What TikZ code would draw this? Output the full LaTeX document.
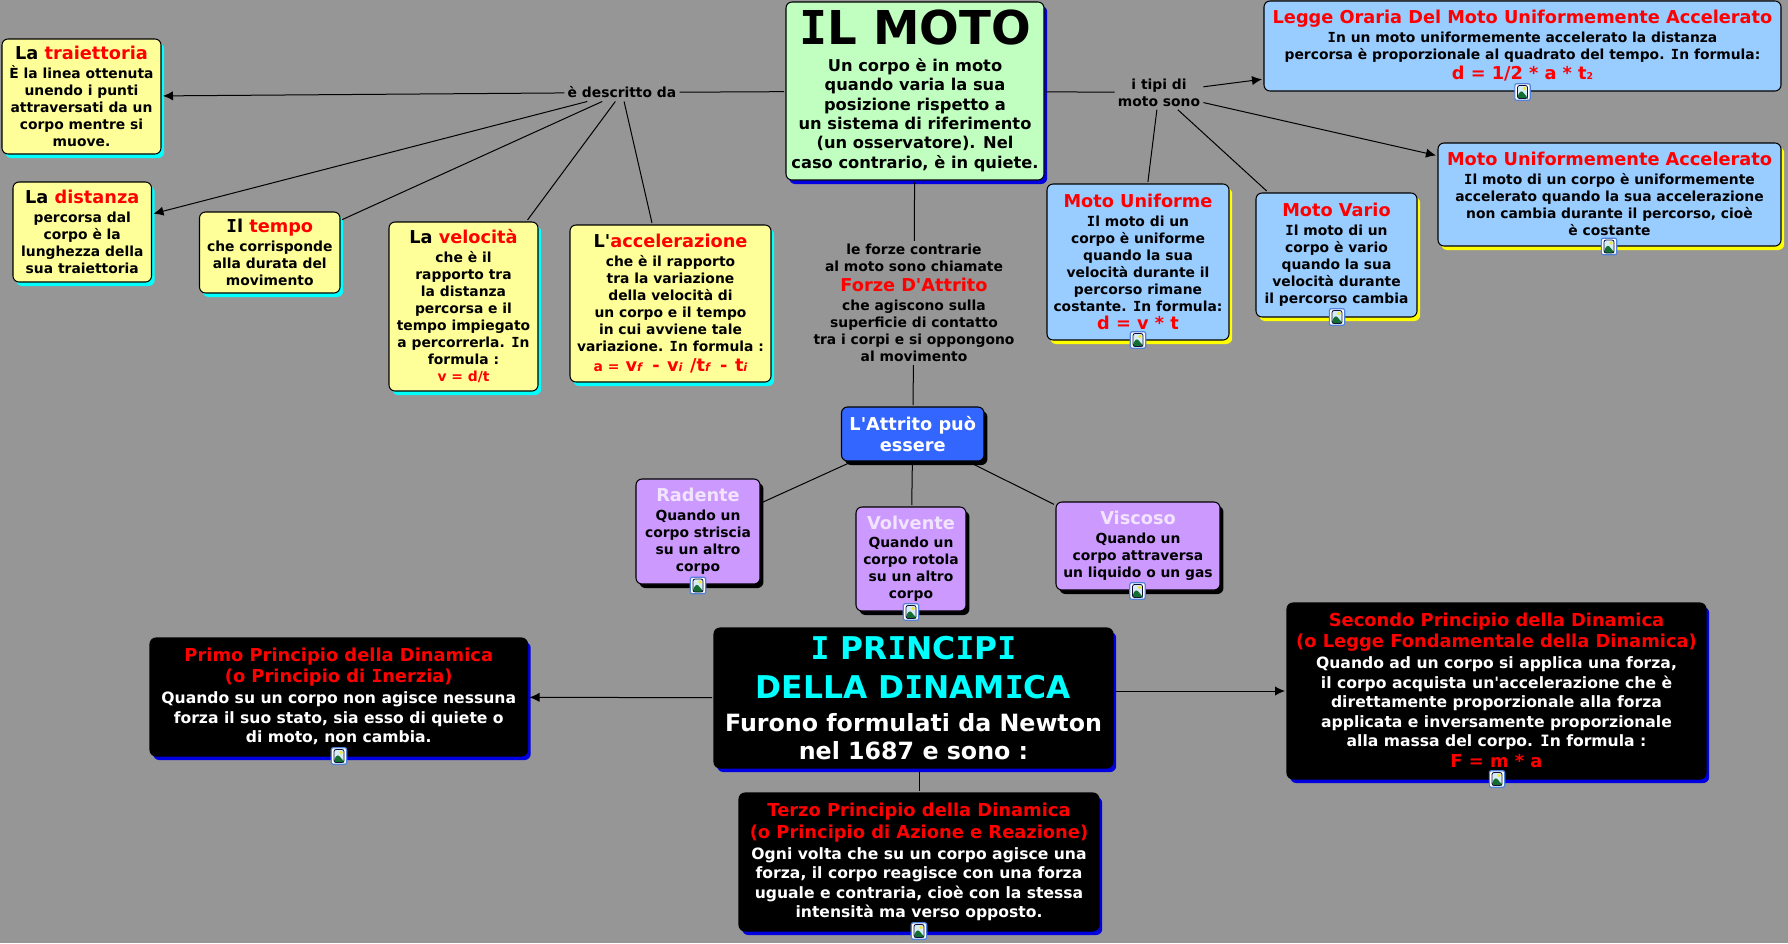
\documentclass[tikz,border=0pt]{standalone}
\usepackage{fontspec}
\usetikzlibrary{arrows.meta,shadows}
\newfontfamily\dv{DejaVu Sans}
\newfontfamily\dvm{DejaVu Sans Mono}
\definecolor{bgc}{HTML}{969696}
\definecolor{yel}{HTML}{FFFF99}
\definecolor{grn}{HTML}{C0FFC0}
\definecolor{sky}{HTML}{99CCFF}
\definecolor{vio}{HTML}{CC99FF}
\definecolor{roy}{HTML}{3366FF}
\definecolor{lav}{HTML}{F2E4FF}
\definecolor{deepb}{HTML}{0000E0}
\definecolor{cyn}{HTML}{00FFFF}
\definecolor{yl}{HTML}{FFFF00}
\definecolor{rd}{HTML}{FF0000}
\definecolor{icb}{HTML}{5082DC}
\definecolor{ics}{HTML}{D6ECF8}
\definecolor{icg}{HTML}{146E32}
\definecolor{icy}{HTML}{F5E632}
\definecolor{icf}{HTML}{10103A}
\newcommand\by{\dv\bfseries\fontsize{10.4}{12.75}\selectfont}
\newcommand\hd{\dv\bfseries\fontsize{13.3}{12.75}\selectfont}
\newcommand\hk{\dv\bfseries\fontsize{13.4}{14.6}\selectfont}
\newcommand\bk{\dv\bfseries\fontsize{11.7}{14.6}\selectfont}
\newcommand\mb{\dv\bfseries\fontsize{12.2}{14.5}\selectfont}
\newcommand\pb{\dv\bfseries\fontsize{17.8}{21}\selectfont}
\newcommand\pt{\dv\bfseries\fontsize{23.5}{21}\selectfont}
\newcommand\ssm{\fontsize{8.5}{8}\selectfont\itshape}
\newcommand\mi{{\dvm\bfseries I}}
\newcommand\rd[1]{\textcolor{rd}{#1}}
\newcommand\up[1]{\rule[-#1]{0pt}{#1}}
\tikzset{
  pxbox/.style n args={4}{at={({(#1+#3)/2},{(#2+#4)/2})},
    minimum width={(#3-#1)*0.75pt},minimum height={(#4-#2)*0.75pt}},
  card/.style={draw=black,line width=0.8pt,rounded corners=4.5pt,inner sep=0pt,outer sep=1.5pt,align=center},
  ybox/.style={card,fill=yel,text=black,font=\by,general shadow={fill=cyn,shadow xshift=2.4pt,shadow yshift=-3pt}},
  gbox/.style={card,fill=grn,text=black,font=\mb,general shadow={fill=deepb,shadow xshift=2.4pt,shadow yshift=-3pt}},
  sbox/.style={card,fill=sky,text=black,font=\by,general shadow={fill=yl,shadow xshift=2.4pt,shadow yshift=-3pt}},
  lbox/.style={card,fill=sky,text=black,font=\by},
  vbox/.style={card,fill=vio,text=black,font=\by,general shadow={fill=black,shadow xshift=2.6pt,shadow yshift=-3pt}},
  rbox/.style={card,fill=roy,text=white,font=\hd,general shadow={fill=black,shadow xshift=2.6pt,shadow yshift=-3pt}},
  kbox/.style={card,fill=black,text=white,font=\bk,general shadow={fill=deepb,shadow xshift=2.4pt,shadow yshift=-3pt}},
  lab/.style={inner sep=1pt,outer sep=1.5pt,align=center,text=black,font=\by},
  con/.style={draw=black,line width=0.75pt},
  arr/.style={con,-{Latex[length=7.5pt,width=7pt]}},
  icn/.style={draw=icb,line width=0.9pt,fill=white,rounded corners=1.5pt,
    minimum width=11.5pt,minimum height=12.5pt,inner sep=0pt,
    path picture={
      \begin{scope}[shift={(path picture bounding box.center)}]
        \fill[ics] (-5,-6.5) rectangle (5,6.5);
        \fill[icg] (-5,6.5) -- (-5,3) -- (-1,-1.5) -- (2,2) -- (5,5.5) -- (5,6.5) -- cycle;
        \fill[icy] (2,-3.5) circle (1.9);
        \draw[icf,line width=0.6pt] (-5,-6.5) rectangle (5,6.5);
      \end{scope}}},
}
\begin{document}
\begin{tikzpicture}[x=0.75pt,y=-0.75pt]
\useasboundingbox (0,0) rectangle (1788,943);
\fill[bgc] (0,0) rectangle (1788,943);

% top centre
\node[gbox,pxbox={786}{2}{1044}{180}] (moto) {%
  {\dv\bfseries\fontsize{35}{38}\selectfont \mi L MOTO}\\[5.5pt]
  Un corpo è in moto\\quando varia la sua\\posizione rispetto a\\un sistema di riferimento\\(un osservatore). Nel\\caso contrario, è in quiete.};

% left column
\node[ybox,pxbox={2}{39}{161}{154}] (traj) {{\hd La \rd{traiettoria}}\\[1.5pt]
  È la linea ottenuta\\unendo i punti\\attraversati da un\\corpo mentre si\\muove.};
\node[ybox,pxbox={13}{182}{151.5}{282}] (dist) {{\hd La \rd{distanza}}\\[1.5pt]
  percorsa dal\\corpo è la\\lunghezza della\\sua traiettoria};
\node[ybox,pxbox={199.5}{212}{340}{293}] (temp) {{\hd \mi l \rd{tempo}}\\[1.5pt]
  che corrisponde\\alla durata del\\movimento};
\node[ybox,pxbox={389}{222}{538}{391}] (velo) {{\hd La \rd{velocità}}\\[1.5pt]
  che è il\\rapporto tra\\la distanza\\percorsa e il\\tempo impiegato\\a percorrerla. \mi n\\formula :\\\rd{v = d/t}};
\node[ybox,pxbox={570}{225}{771}{382}] (acce) {{\hd L'\rd{accelerazione}}\\[1.5pt]
  che è il rapporto\\tra la variazione\\della velocità di\\un corpo e il tempo\\in cui avviene tale\\variazione. \mi n formula :\\[2pt]
  \textcolor{rd}{a = {\hd\hspace{1pt}v{\ssm f}\hspace{3pt} - \hspace{1pt}v{\ssm i}\hspace{1pt} /t{\ssm f}\hspace{3pt} - \hspace{1pt}t{\ssm i}}}};

% right column
\node[lbox,pxbox={1264}{1}{1781}{91}] (legg) {{\hd\rd{Legge Oraria Del Moto Uniformemente Accelerato}}\\[1.5pt]
  \mi n un moto uniformemente accelerato la distanza\\percorsa è proporzionale al quadrato del tempo. \mi n formula:\\[2pt]
  {\hd\rd{d = 1/2 * a * t{\fontsize{7}{7}\selectfont 2}}}\up{1.5pt}};
\node[sbox,pxbox={1438}{143}{1781}{246}] (unac) {{\hd\rd{Moto Uniformemente Accelerato}}\\[1.5pt]
  \mi l moto di un corpo è uniformemente\\accelerato quando la sua accelerazione\\non cambia durante il percorso, cioè\\è costante\up{1pt}};
\node[sbox,pxbox={1047}{184}{1229}{340}] (unif) {{\hd\rd{Moto Uniforme}}\\[1.5pt]
  \mi l moto di un\\corpo è uniforme\\quando la sua\\velocità durante il\\percorso rimane\\costante. \mi n formula:\\[1pt]
  {\hd\rd{d = v * t}}};
\node[sbox,pxbox={1256}{193}{1417}{317}] (vari) {{\hd\rd{Moto Vario}}\\[1.5pt]
  \mi l moto di un\\corpo è vario\\quando la sua\\velocità durante\\il percorso cambia\up{2.5pt}};

% labels
\node[lab] (ldes) at (622,92.5) {è descritto da};
\node[lab] (ltip) at (1159,92.5) {i tipi di\\moto sono};
\node[lab] (lfor) at (914,303) {le forze contrarie\\al moto sono chiamate\\[2pt]{\hd\rd{Forze D'Attrito}}\\[1.5pt]che agiscono sulla\\superficie di contatto\\tra i corpi e si oppongono\\al movimento};

% attrito
\node[rbox,pxbox={841.5}{407}{984}{461}] (attr) {L'Attrito può\\[3.5pt]essere};
\node[vbox,pxbox={636}{479}{760}{584}] (rade) {{\hd\textcolor{lav}{Radente}}\\[1pt]Quando un\\corpo striscia\\su un altro\\corpo\up{2.5pt}};
\node[vbox,pxbox={856}{507}{966}{611}] (volv) {{\hd\textcolor{lav}{Volvente}}\\[1pt]Quando un\\corpo rotola\\su un altro\\corpo\up{2.5pt}};
\node[vbox,pxbox={1056}{502}{1220}{590}] (visc) {{\hd\textcolor{lav}{Viscoso}}\\[1pt]Quando un\\corpo attraversa\\un liquido o un gas\up{2.5pt}};

% dinamica
\node[kbox,font=\pb,pxbox={714}{628}{1113}{768}] (prin) {%
  {\pt\textcolor{cyn}{\mi{} PR\mi NC\mi P\mi}}\\[8.25pt]
  {\pt\textcolor{cyn}{DELLA D\mi NAM\mi CA}}\\[3.75pt]
  Furono formulati da Newton\\
  nel 1687 e sono :};
\node[kbox,pxbox={150}{638}{527.5}{756}] (prim) {{\hk\rd{Primo Principio della Dinamica}}\\[1.5pt]
  {\hk\rd{(o Principio di \mi nerzia)}}\\[1pt]
  Quando su un corpo non agisce nessuna\\forza il suo stato, sia esso di quiete o\\di moto, non cambia.\up{2.5pt}};
\node[kbox,pxbox={1287}{603}{1706}{779}] (seco) {{\hk\rd{Secondo Principio della Dinamica}}\\[1.5pt]
  {\hk\rd{(o Legge Fondamentale della Dinamica)}}\\[1pt]
  Quando ad un corpo si applica una forza,\\il corpo acquista un'accelerazione che è\\direttamente proporzionale alla forza\\applicata e inversamente proporzionale\\alla massa del corpo. \mi n formula :\\[1pt]
  {\hk\rd{F = m * a}}\up{1.5pt}};
\node[kbox,pxbox={739}{793}{1099}{931}] (terz) {{\hk\rd{Terzo Principio della Dinamica}}\\[1.5pt]
  {\hk\rd{(o Principio di Azione e Reazione)}}\\[1pt]
  Ogni volta che su un corpo agisce una\\forza, il corpo reagisce con una forza\\uguale e contraria, cioè con la stessa\\intensità ma verso opposto.\up{2.5pt}};

% connectors
\draw[con] (moto) -- (ldes);
\draw[arr] (ldes) -- (traj);
\draw[arr] (ldes) -- (dist);
\draw[con] (ldes) -- (temp);
\draw[con] (ldes) -- (velo);
\draw[con] (ldes) -- (acce);
\draw[con] (moto) -- (ltip);
\draw[arr] (ltip) -- (legg);
\draw[arr] (ltip) -- (unac);
\draw[con] (ltip) -- (unif);
\draw[con] (ltip) -- (vari);
\draw[con] (moto) -- (lfor);
\draw[con] (lfor) -- (attr);
\draw[con] (attr) -- (rade);
\draw[con] (attr) -- (volv);
\draw[con] (attr) -- (visc);
\draw[arr] (prin) -- (prim);
\draw[arr] (prin.east |- seco.west) -- (seco.west);
\draw[con] (terz.north) -- (terz.north |- prin.south);

% image icons
\node[icn] (i1) at (1522.5,92) {};
\node[icn] (i2) at (1609,246.5) {};
\node[icn] (i3) at (1138,340) {};
\node[icn] (i4) at (1337,317) {};
\node[icn] (i5) at (698,585.5) {};
\node[icn] (i6) at (911,612) {};
\node[icn] (i7) at (1137.5,591) {};
\node[icn] (i8) at (339,756) {};
\node[icn] (i9) at (1497,779) {};
\node[icn] (i10) at (919,931) {};
\end{tikzpicture}
\end{document}
